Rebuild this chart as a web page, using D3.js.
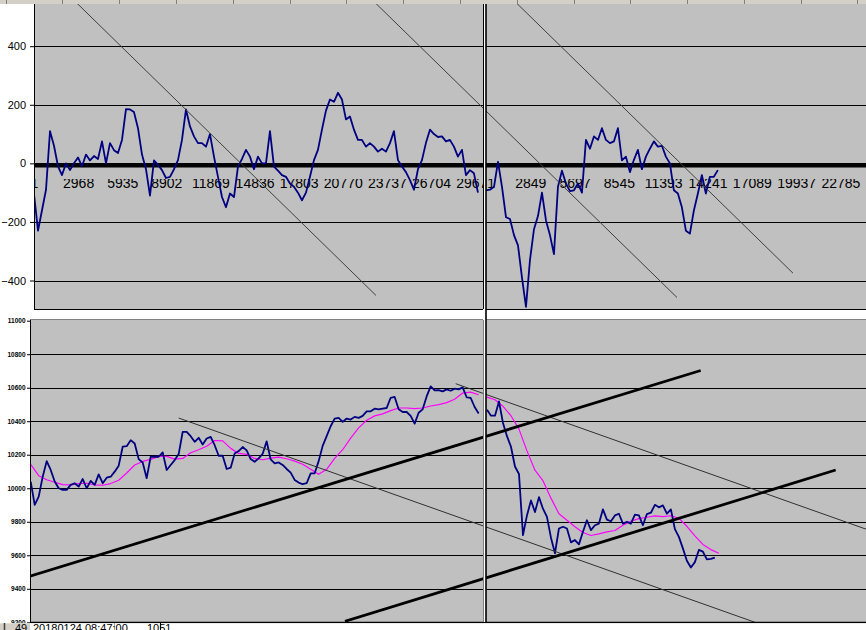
<!DOCTYPE html>
<html>
<head>
    <meta charset="utf-8">
    <title>chart</title>
    <script type="text/javascript" src="https://cdn.jsdelivr.net/npm/d3@7"></script>
    <style>
        body { margin: 0; background: #fff; }
        svg { display: block; font-family: "Liberation Sans", Arial, sans-serif; }
    </style>
</head>
<body>
    <svg width="866" height="630"></svg>

    <script>
        // oscillator, left segment (one value every 269 bars from bar 1)
        var topLeftVals = [
            -105, -230, -160, -90, 110, 60, -10, -40, 0, -23,
            0, 20, -10, 30, 10, 25, 15, 75, 0, 69,
            45, 35, 80, 185, 184, 175, 120, 30, -20, -110,
            10, -5, -23, -50, -46, -20, 11, 80, 184, 126,
            92, 69, 69, 57, 100, 23, -46, -115, -150, -103,
            -115, -11, 15, 46, 23, -20, 23, 0, 0, 110,
            -11, -25, -40, -46, -69, -80, -100, -126, -100, -46,
            11, 46, 115, 180, 218, 210, 241, 218, 150, 160,
            115, 80, 80, 57, 69, 57, 40, 50, 40, 69,
            110, 11, -11, -30, -57, -90, -20, 11, 70, 115,
            100, 90, 92, 75, 80, 57, 23, 46, -40, -23,
            -34, -100
        ];
        // oscillator, right segment (one value every 257 bars)
        var topRightVals = [
            -92, -90, -80, 5, -80, -184, -190, -245, -280, -390,
            -490, -330, -225, -180, -100, -195, -245, -310, -80, -25,
            -69, -95, -92, -69, -100, 80, 50, 92, 80, 120,
            80, 69, 75, 120, 10, 23, -30, 12, 46, -20,
            23, 50, 75, 57, 60, 23, 0, -92, -103, -150,
            -230, -240, -161, -103, -40, -103, -46, -46, -23
        ];
        // price, left segment (every 269 bars) and its average (every 538 bars)
        var botLeftVals = [
            10040, 9901, 9950, 10069, 10162, 10109, 10040, 10000, 9990, 9990,
            10020, 10030, 10010, 10055, 10000, 10044, 10020, 10083, 10030, 10063,
            10069, 10099, 10135, 10248, 10251, 10287, 10267, 10174, 10154, 10060,
            10188, 10188, 10188, 10214, 10109, 10139, 10168, 10204, 10337, 10337,
            10311, 10277, 10301, 10261, 10297, 10307, 10257, 10194, 10194, 10115,
            10123, 10208, 10222, 10246, 10226, 10174, 10158, 10178, 10206, 10280,
            10172, 10149, 10154, 10139, 10115, 10093, 10050, 10034, 10024, 10030,
            10089, 10089, 10162, 10253, 10311, 10370, 10416, 10420, 10396, 10416,
            10410, 10426, 10420, 10432, 10459, 10459, 10475, 10471, 10475, 10479,
            10540, 10545, 10471, 10455, 10455, 10432, 10386, 10451, 10471, 10548,
            10608, 10584, 10586, 10578, 10590, 10582, 10594, 10590, 10602, 10543,
            10539, 10485, 10446
        ];
        var botLeftMA = [
            10143, 10075, 10051, 10036, 10022, 10020, 10028, 10030, 10020, 10018,
            10028, 10048, 10091, 10139, 10160, 10172, 10190, 10190, 10174, 10178,
            10212, 10230, 10251, 10285, 10283, 10238, 10208, 10202, 10178, 10170,
            10180, 10186, 10176, 10162, 10143, 10113, 10083, 10113, 10178, 10230,
            10299, 10360, 10406, 10432, 10444, 10463, 10479, 10479, 10475, 10479,
            10491, 10499, 10511, 10531, 10568, 10574, 10558
        ];
        // price, right segment (every 257 bars from bar 65) and average (every 514 bars)
        var botRightVals = [
            10469, 10433, 10433, 10518, 10390, 10311, 10248, 10130, 10085, 9720,
            9838, 9927, 9858, 9947, 9878, 9829, 9705, 9612, 9760, 9770,
            9760, 9677, 9691, 9665, 9740, 9809, 9750, 9779, 9789, 9874,
            9813, 9803, 9838, 9848, 9789, 9799, 9789, 9842, 9838, 9779,
            9846, 9854, 9901, 9886, 9898, 9848, 9874, 9756, 9710, 9641,
            9567, 9527, 9559, 9632, 9622, 9576, 9578, 9586
        ];
        var botRightMA = [
            10544, 10528, 10489, 10433, 10353, 10223, 10108, 10045, 9941, 9848,
            9809, 9770, 9736, 9718, 9728, 9740, 9748, 9779, 9803, 9819,
            9827, 9835, 9831, 9836, 9821, 9773, 9716, 9665, 9634, 9612
        ];

        var topYTicks = [-400, -200, 0, 200, 400];
        var botYTicks = [9200, 9400, 9600, 9800, 10000, 10200, 10400, 10600, 10800, 11000];
        var leftXTicks = [1, 2968, 5935, 8902, 11869, 14836, 17803, 20770, 23737, 26704, 29671];
        var rightXTicks = [2849, 5697, 8545, 11393, 14241, 17089, 19937, 22785, 25633];

        // trend lines: [segment, bar, value, segment, bar, value]
        var topTrend = [
            ["L", 2846, 549, "L", 23003, -451],
            ["L", 22936, 549, "R", 12280, -458],
            ["R", 1930, 549, "R", 19737, -375]
        ];
        var botThick = [
            ["L", -50, 9475, "R", 13803, 10703],
            ["L", 21140, 9206, "R", 22482, 10109]
        ];
        var botThin = [
            ["L", 9955, 10419, "R", 17294, 9200],
            ["L", 28586, 10624, "R", 24430, 9756]
        ];

        var svg = d3.select("svg");
        var W = 866;

        //scales
        var xTL = d3.scaleLinear().domain([1, 30200]).range([34, 483]);
        var xBL = d3.scaleLinear().domain([1, 30200]).range([30.7, 479.7]);
        var xR = d3.scaleLinear().domain([1, 24430]).range([486, 866]);
        var yT = d3.scaleLinear().domain([-400, 400]).range([280.5, 46.2]);
        var yB = d3.scaleLinear().domain([9200, 11000]).range([622.3, 320.7]);

        var defs = svg.append("defs");
        function clip(id, x, y, w, h) {
            defs.append("clipPath").attr("id", id)
                .append("rect").attr("x", x).attr("y", y).attr("width", w).attr("height", h);
            return "url(#" + id + ")";
        }
        var cTL = clip("ctl", 34, 4, 449, 305);
        var cTR = clip("ctr", 486, 4, 380, 305);
        var cBL = clip("cbl", 30, 320, 453, 302);
        var cBR = clip("cbr", 486, 320, 380, 302);
        var cT = clip("ct", 34, 4, 832, 305);
        var cB = clip("cb", 30, 320, 836, 302);

        //ruler strip on top
        svg.append("rect").attr("x", 0).attr("y", 0).attr("width", W).attr("height", 4).attr("fill", "#d4d0c8");
        for (var rx = 5.5; rx < W; rx += 56.8) {
            svg.append("line").attr("x1", Math.round(rx) + 0.5).attr("x2", Math.round(rx) + 0.5)
                .attr("y1", 0).attr("y2", 4).attr("stroke", "#808080");
        }

        //plot backgrounds
        svg.append("rect").attr("x", 34).attr("y", 4).attr("width", W - 34).attr("height", 305).attr("fill", "#c0c0c0");
        svg.append("rect").attr("x", 30).attr("y", 320).attr("width", W - 30).attr("height", 302).attr("fill", "#c0c0c0");

        //grid lines
        svg.append("g").selectAll("line")
            .data(topYTicks.filter(function (d) { return d !== 0; }))
            .enter().append("line")
            .attr("x1", 34).attr("x2", W)
            .attr("y1", function (d) { return Math.round(yT(d)) + 0.5; })
            .attr("y2", function (d) { return Math.round(yT(d)) + 0.5; })
            .attr("stroke", "#000");
        svg.append("g").selectAll("line")
            .data(botYTicks.filter(function (d) { return d > 9200 && d < 11000; }))
            .enter().append("line")
            .attr("x1", 30).attr("x2", W)
            .attr("y1", function (d) { return Math.round(yB(d)) + 0.5; })
            .attr("y2", function (d) { return Math.round(yB(d)) + 0.5; })
            .attr("stroke", "#000");

        //x labels inside the upper panel
        function xLabels(scale, ticks, cp) {
            var ax = svg.append("g")
                .attr("transform", "translate(0,175)")
                .attr("clip-path", cp)
                .call(d3.axisBottom(scale).tickValues(ticks).tickSize(0).tickPadding(3).tickFormat(d3.format("d")));
            ax.select(".domain").remove();
            ax.selectAll("text").attr("font-size", 14).attr("font-family", "Liberation Sans, Arial, sans-serif").attr("fill", "#000");
        }
        xLabels(xTL, leftXTicks, cT);
        xLabels(xR, rightXTicks, cTR);

        //zero line
        svg.append("rect").attr("x", 34).attr("y", Math.round(yT(0)))
            .attr("width", W - 34).attr("height", 4.5).attr("fill", "#000");

        //series
        function series(vals, scaleX, scaleY, start, step, color, width, cp) {
            var line = d3.line()
                .x(function (d, i) { return scaleX(start + i * step); })
                .y(function (d) { return scaleY(d); });
            svg.append("path")
                .datum(vals)
                .attr("d", line)
                .attr("fill", "none")
                .attr("stroke", color)
                .attr("stroke-width", width)
                .attr("stroke-linejoin", "round")
                .attr("clip-path", cp);
        }
        series(topLeftVals, xTL, yT, 1, 269, "#000080", 1.8, cTL);
        series(topRightVals, xR, yT, 1, 257, "#000080", 1.8, cTR);
        series(botLeftMA, xBL, yB, 1, 538, "#ff00ff", 1.2, cBL);
        series(botRightMA, xR, yB, 65, 514, "#ff00ff", 1.2, cBR);
        series(botLeftVals, xBL, yB, 1, 269, "#000080", 1.8, cBL);
        series(botRightVals, xR, yB, 65, 257, "#000080", 1.8, cBR);

        //trend lines
        function trend(rows, xl, scaleY, color, width, cp) {
            svg.append("g").attr("clip-path", cp).selectAll("line")
                .data(rows).enter().append("line")
                .attr("x1", function (d) { return (d[0] === "L" ? xl : xR)(d[1]); })
                .attr("y1", function (d) { return scaleY(d[2]); })
                .attr("x2", function (d) { return (d[3] === "L" ? xl : xR)(d[4]); })
                .attr("y2", function (d) { return scaleY(d[5]); })
                .attr("stroke", color)
                .attr("stroke-width", width);
        }
        trend(topTrend, xTL, yT, "#404040", 1, cT);
        trend(botThin, xBL, yB, "#303030", 1, cB);
        trend(botThick, xBL, yB, "#000", 2.8, cB);

        //panel borders
        svg.append("line").attr("x1", 34.5).attr("x2", 34.5).attr("y1", 4).attr("y2", 309).attr("stroke", "#000");
        svg.append("line").attr("x1", 34).attr("x2", W).attr("y1", 309.5).attr("y2", 309.5).attr("stroke", "#000");
        svg.append("line").attr("x1", 30).attr("x2", W).attr("y1", 319.5).attr("y2", 319.5).attr("stroke", "#808080");
        svg.append("line").attr("x1", 30.5).attr("x2", 30.5).attr("y1", 320).attr("y2", 623).attr("stroke", "#000");
        svg.append("line").attr("x1", 30).attr("x2", W).attr("y1", 622.5).attr("y2", 622.5).attr("stroke", "#000").attr("stroke-width", 1.5);

        //splitter between the two segments
        svg.append("rect").attr("x", 483).attr("y", 4).attr("width", 3).attr("height", 618).attr("fill", "#fff");
        svg.append("line").attr("x1", 483.5).attr("x2", 483.5).attr("y1", 4).attr("y2", 309).attr("stroke", "#000");
        svg.append("line").attr("x1", 483.5).attr("x2", 483.5).attr("y1", 320).attr("y2", 622).attr("stroke", "#808080");
        svg.append("line").attr("x1", 486).attr("x2", 486).attr("y1", 4).attr("y2", 622).attr("stroke", "#000").attr("stroke-width", 1.6);

        //y axes
        var ayT = svg.append("g").attr("transform", "translate(34,0)")
            .call(d3.axisLeft(yT).tickValues(topYTicks).tickSize(4).tickPadding(4).tickFormat(d3.format("d")));
        ayT.select(".domain").remove();
        ayT.selectAll("line").attr("stroke", "#000");
        ayT.selectAll("text").attr("font-size", 11).attr("font-family", "Liberation Sans, Arial, sans-serif").attr("fill", "#000");

        var ayB = svg.append("g").attr("transform", "translate(30,0)")
            .call(d3.axisLeft(yB).tickValues(botYTicks).tickSize(3).tickPadding(1.5).tickFormat(d3.format("d")));
        ayB.select(".domain").remove();
        ayB.selectAll("line").attr("stroke", "#000");
        ayB.selectAll("text").attr("font-size", 6.5).attr("font-weight", "bold")
            .attr("font-family", "Liberation Sans, Arial, sans-serif").attr("fill", "#000");

        //status strip at the bottom
        var sb = svg.append("g");
        sb.append("rect").attr("x", 0).attr("y", 623.3).attr("width", W).attr("height", 7).attr("fill", "#fff");
        sb.append("rect").attr("x", 0).attr("y", 623.3).attr("width", 30).attr("height", 7).attr("fill", "#d4d0c8");
        sb.append("line").attr("x1", 4.5).attr("x2", 4.5).attr("y1", 623).attr("y2", 630).attr("stroke", "#404040").attr("stroke-width", 1.5);
        sb.append("line").attr("x1", 114.5).attr("x2", 114.5).attr("y1", 623).attr("y2", 630).attr("stroke", "#a0a0a0");
        sb.append("line").attr("x1", 160.5).attr("x2", 160.5).attr("y1", 623).attr("y2", 630).attr("stroke", "#000");
        sb.append("text").attr("x", 15).attr("y", 631.5).attr("font-size", 11).text("49");
        sb.append("text").attr("x", 33).attr("y", 631.5).attr("font-size", 11).text("20180124  08:47:00");
        sb.append("text").attr("x", 147).attr("y", 631.5).attr("font-size", 11).text("1051");
    </script>
</body>
</html>
